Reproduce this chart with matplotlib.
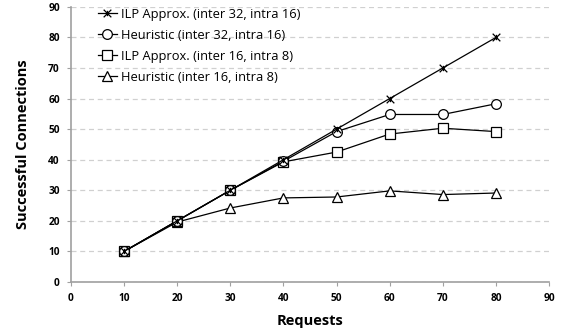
import matplotlib
matplotlib.use("Agg")
import matplotlib.pyplot as plt
from matplotlib.path import Path

requests = [10, 20, 30, 40, 50, 60, 70, 80]
ilp_32 = [10, 20, 30, 40, 50, 60, 70, 80]
heur_32 = [10, 20, 30, 39.5, 49.2, 54.8, 54.8, 58.3]
ilp_16 = [10, 20, 30, 39.3, 42.5, 48.4, 50.3, 49.2]
heur_16 = [10, 19.6, 24.2, 27.5, 27.8, 29.8, 28.6, 29.1]
labels = ["ILP Approx. (inter 32, intra 16)", "Heuristic (inter 32, intra 16)",
          "ILP Approx. (inter 16, intra 8)", "Heuristic (inter 16, intra 8)"]
x_ticks = list(range(0, 100, 10))
y_ticks = list(range(0, 100, 10))

plt.rcParams['font.family'] = ['Open Sans', 'DejaVu Sans']

star = Path([(-1, -1), (1, 1), (-1, 1), (1, -1), (0, -0.7), (0, 0.7)],
            [Path.MOVETO, Path.LINETO, Path.MOVETO, Path.LINETO, Path.MOVETO, Path.LINETO])

fig = plt.figure(figsize=(5.66, 3.29), dpi=100)
ax = fig.add_axes([0.1254, 0.143, 0.8446, 0.836])

common = dict(color='black', linewidth=0.9, markerfacecolor='white',
              markeredgecolor='black', markeredgewidth=0.9)
ax.plot(requests, ilp_32, marker=star, markersize=5.5, label=labels[0], zorder=5, **common)
ax.plot(requests, heur_32, marker='o', markersize=7, label=labels[1], zorder=4, **common)
ax.plot(requests, ilp_16, marker='s', markersize=7, label=labels[2], zorder=3, **common)
ax.plot(requests, heur_16, marker='^', markersize=7, label=labels[3], zorder=2, **common)

ax.set_xlim(0, 90)
ax.set_ylim(0, 90)
ax.set_xticks(x_ticks)
ax.set_yticks(y_ticks)
for lab in ax.get_xticklabels() + ax.get_yticklabels():
    lab.set_fontweight('bold')
    lab.set_fontsize(7.3)
ax.tick_params(axis='both', length=3, width=0.8, color='#a0a0a0', pad=5)
ax.spines['top'].set_visible(False)
ax.spines['right'].set_visible(False)
ax.spines['left'].set_color('#a0a0a0')
ax.spines['bottom'].set_color('#a0a0a0')
ax.spines['left'].set_linewidth(1.2)
ax.spines['bottom'].set_linewidth(1.2)
ax.yaxis.grid(True, linestyle=(0, (4, 3)), color='#d0d0d0', linewidth=0.9)
ax.set_axisbelow(True)

ax.set_xlabel('Requests', fontsize=10.5, fontweight='bold', labelpad=7)
ax.set_ylabel('Successful Connections', fontsize=10.5, fontweight='bold', labelpad=13)

leg = ax.legend(loc='upper left', bbox_to_anchor=(0.045, 1.015), frameon=False,
                fontsize=9.3, handlelength=1.5, handletextpad=0.3, labelspacing=0.62,
                borderaxespad=0.0)

fig.savefig('out.png', dpi=100)
